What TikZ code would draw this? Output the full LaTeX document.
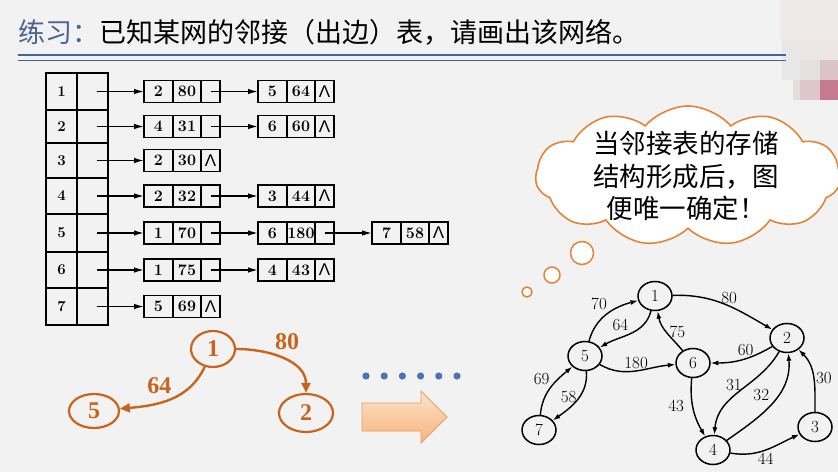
\documentclass[tikz,border=0pt]{standalone}
\usepackage{fontspec}
\newfontfamily\cjk{Noto Sans CJK SC}
\newfontfamily\oserif{Liberation Serif}
\newfontfamily\lsans{Liberation Sans}
\usepackage{xcolor}
\usetikzlibrary{arrows.meta,positioning,shapes.geometric,shapes.symbols}

\definecolor{bgray}{HTML}{F2F2F2}
\definecolor{titleblue}{HTML}{4A6390}
\definecolor{ruleblue}{HTML}{4263A0}
\definecolor{sketch}{HTML}{C8641C}
\definecolor{cloudline}{HTML}{E38536}
\definecolor{dotblue}{HTML}{4A74B4}
\definecolor{arrowtop}{HTML}{FDE3CB}
\definecolor{arrowbot}{HTML}{F8B37C}
\definecolor{arrowline}{HTML}{E39E6A}

\newcommand{\nilmark}{{\lsans\mdseries\fontsize{17}{18}\selectfont Λ}}

\begin{document}
\begin{tikzpicture}[
  x=1pt,y=1pt,
  hcell/.style={draw,line width=1.4pt,minimum width=31pt,inner sep=0,outer sep=0,
                font=\bfseries\fontsize{15}{17}\selectfont},
  fld/.style={draw,line width=1.4pt,minimum height=22pt,inner sep=0,outer sep=0,
              font=\bfseries\fontsize{16}{18}\selectfont},
  vfld/.style={fld,minimum width=29pt},
  wfld/.style={fld,minimum width=28pt},
  pfld/.style={fld,minimum width=19pt},
  lk/.style={-{Latex[length=10pt,width=5.5pt]},line width=1.4pt},
  gnode/.style={draw,ellipse,line width=1.5pt,minimum width=34pt,minimum height=29pt,
                inner sep=0,font=\fontsize{17}{19}\selectfont},
  garc/.style={-{Latex[length=7.5pt,width=5pt]},line width=1.4pt},
  elab/.style={font=\fontsize{17}{19}\selectfont,inner sep=2pt},
  onode/.style={draw=sketch,ellipse,line width=2.2pt,text=sketch,inner sep=0,
                font=\oserif\bfseries\fontsize{24}{26}\selectfont},
  oarc/.style={draw=sketch,line width=2.4pt,-{Triangle[length=10pt,width=9pt]}},
  olab/.style={text=sketch,inner sep=2pt,font=\oserif\bfseries\fontsize{24}{26}\selectfont},
  puff/.style={draw=cloudline,fill=white,line width=1.5pt}
]
\useasboundingbox (0,0) rectangle (838,472);
\clip (0,0) rectangle (838,472);
\fill[bgray] (0,0) rectangle (838,472);

% ---- blurred corner ----
\fill[color={rgb,255:red,238;green,234;blue,234}] (780,432) rectangle (838,472);
\fill[color={rgb,255:red,232;green,231;blue,231}] (782,392) rectangle (800,432);
\fill[color={rgb,255:red,235;green,230;blue,229}] (800,412) rectangle (838,432);
\fill[color={rgb,255:red,228;green,224;blue,222}] (800,392) rectangle (820,412);
\fill[color={rgb,255:red,219;green,195;blue,200}] (820,392) rectangle (838,412);
\fill[color={rgb,255:red,228;green,223;blue,223}] (793,372) rectangle (800,392);
\fill[color={rgb,255:red,221;green,199;blue,204}] (800,372) rectangle (820,392);
\fill[color={rgb,255:red,197;green,122;blue,145}] (820,372) rectangle (838,392);

% ---- title ----
\node[anchor=base west,inner sep=0,font=\cjk\fontsize{27}{30}\selectfont] (title) at (18,429.5)
  {\textcolor{titleblue}{练习：}已知某网的邻接（出边）表，请画出该网络。};
\draw[ruleblue,line width=1.8pt] (18,417) -- (786,417);
\draw[ruleblue,line width=0.9pt] (18,412) -- (786,412);

% ---- head table ----
\foreach \i/\y/\h in {1/380.5/37pt,2/345.5/33pt,3/311.5/35pt,4/276/36pt,
                      5/239/38pt,6/202/36pt,7/165.5/37pt}{
  \node[hcell,minimum height=\h] (h\i) at (61.5,\y) {\i};
  \node[hcell,minimum height=\h,right=0pt of h\i] (p\i) {};
}

% ---- edge nodes ----
\foreach \n/\x/\y/\v/\w/\p in {a1/144/380.5/2/80/{},b1/258/380.5/5/64/\nilmark,
    a2/144/345.5/4/31/{},b2/258/345.5/6/60/\nilmark,
    a3/144/311.5/2/30/\nilmark,
    a4/144/276/2/32/{},b4/258/276/3/44/\nilmark,
    a5/144/239/1/70/{},b5/258/239/6/180/{},c5/372/239/7/58/\nilmark,
    a6/144/202/1/75/{},b6/258/202/4/43/\nilmark,
    a7/144/165.5/5/69/\nilmark}{
  \node[vfld,anchor=west] (\n v) at (\x,\y) {\v};
  \node[wfld,right=0pt of \n v] (\n w) {\w};
  \node[pfld,right=0pt of \n w] (\n p) {\p};
}

% list pointers
\foreach \i in {1,...,7}
  \draw[lk] ([xshift=4.5pt]p\i.center) -- (a\i v);
\draw[lk] (a1p.center) -- (b1v);
\draw[lk] (a2p.center) -- (b2v);
\draw[lk] (a4p.center) -- (b4v);
\draw[lk] (a5p.center) -- (b5v);
\draw[lk] (b5p.center) -- (c5v);
\draw[lk] (a6p.center) -- (b6v);

% ---- hand sketch ----
\node[onode,minimum width=44pt,minimum height=36pt] (o1) at (213,123) {1};
\node[onode,minimum width=54pt,minimum height=38pt] (o2) at (306,59) {2};
\node[onode,minimum width=50pt,minimum height=34pt] (o5) at (94,61) {5};
\draw[oarc] (o1) to[out=0,in=90] node[olab,pos=.55,above=8pt] {80} (o2);
\draw[oarc] (o1) to[out=-115,in=5] node[olab,pos=.45,above left] {64} (o5);

% ---- dots and block arrow ----
\foreach \k in {0,...,5}
  \fill[dotblue] (366+18.2*\k,96) circle (3.6pt);
\draw[arrowline,top color=arrowtop,bottom color=arrowbot,line width=0.8pt]
  (362,69) -- (421,69) -- (421,81) -- (447,55) -- (421,29) -- (421,41) -- (362,41) -- cycle;

% ---- thought cloud ----
\node[cloud,cloud puffs=11,cloud puff arc=100,aspect=2.1,draw=cloudline,fill=white,
      line width=1.6pt,minimum width=305pt,minimum height=140pt,inner sep=0] (bubble) at (688,296) {};
\node[align=center,font=\cjk\fontsize{26.5}{32.5}\selectfont] (msg) at (686,296)
  {当邻接表的存储\\结构形成后，图\\便唯一确定！};
\draw[puff] (582,219) circle (11.5pt);
\draw[puff] (552,197) circle (8pt);
\draw[puff] (527,180) circle (5pt);

% ---- network ----
\node[gnode] (n1) at (655,176) {1};
\node[gnode] (n2) at (787,134) {2};
\node[gnode] (n3) at (815,45)  {3};
\node[gnode] (n4) at (713,22)  {4};
\node[gnode] (n5) at (585,116) {5};
\node[gnode] (n6) at (693,109) {6};
\node[gnode] (n7) at (539,42)  {7};

\draw[garc] (n1) to[out=2,in=150]   node[elab,pos=.55,above] {80} (n2);
\draw[garc] (n5) to[out=75,in=195]  node[elab,pos=.55,above left] {70} (n1);
\draw[garc] (n1) to[out=-105,in=30] node[elab,pos=.5,above left] {64} (n5);
\draw[garc] (n6) to[out=130,in=-80] node[elab,pos=.5,right] {75} (n1);
\draw[garc] (n5) to[out=-30,in=185] node[elab,pos=.5,above] {180} (n6);
\draw[garc] (n2) to[out=210,in=0]   node[elab,pos=.45,above] {60} (n6);
\draw[garc] (n7) to[out=85,in=220]  node[elab,pos=.7,left=6pt] {69} (n5);
\draw[garc] (n5) to[out=-85,in=35]  node[elab,pos=.45,left] {58} (n7);
\draw[garc] (n6) to[out=-95,in=120] node[elab,pos=.45,left=6pt] {43} (n4);
\draw[garc] (n2) to[out=240,in=85]  node[elab,pos=.4,left=4pt] {31} (n4);
\draw[garc] (n4) to[out=35,in=-85]  node[elab,pos=.5,above left] {32} (n2);
\draw[garc] (n3) to[out=90,in=-45]  node[elab,pos=.5,right] {30} (n2);
\draw[garc] (n4) to[out=-10,in=205] node[elab,pos=.5,below] {44} (n3);

\end{tikzpicture}
\end{document}
